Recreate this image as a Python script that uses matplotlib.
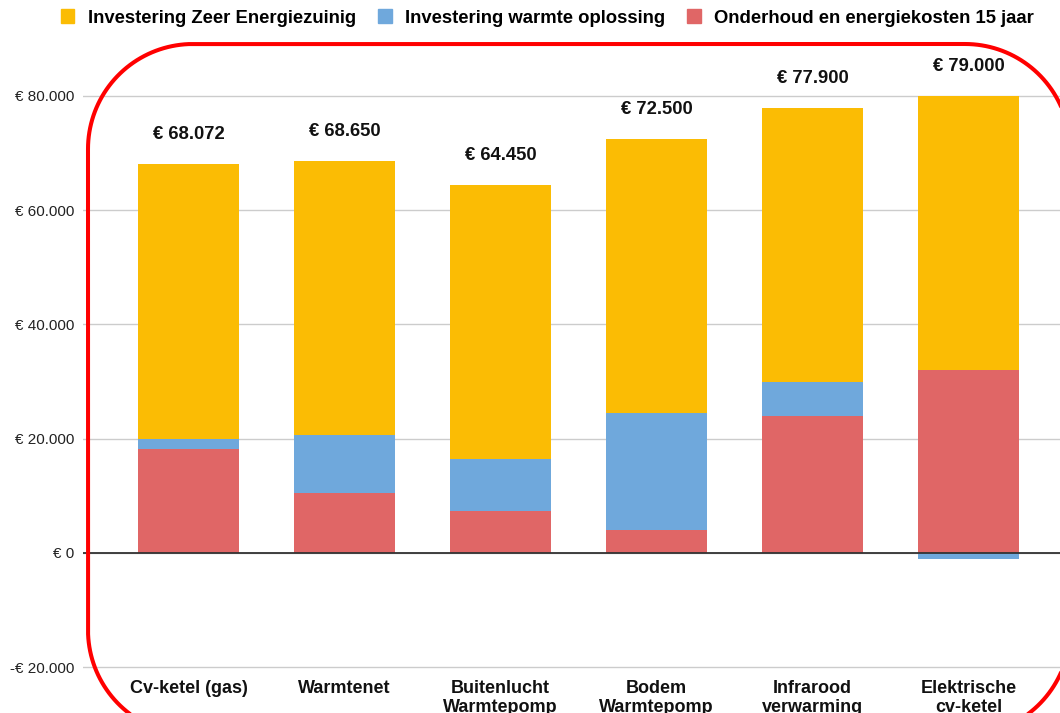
import matplotlib.pyplot as plt
import numpy as np
from matplotlib.lines import Line2D
from matplotlib.patches import Patch
from matplotlib.ticker import FuncFormatter

plt.rcParams["font.family"] = ["Liberation Sans", "DejaVu Sans"]

categories = ["Cv-ketel (gas)", "Warmtenet", "Buitenlucht\nWarmtepomp",
              "Bodem\nWarmtepomp", "Infrarood\nverwarming", "Elektrische\ncv-ketel"]
onderhoud = np.array([18200, 10500, 7350, 4000, 24000, 32000])
warmte = np.array([1800, 10150, 9100, 20500, 5900, -1000])
zeer_zuinig = np.array([48072, 48000, 48000, 48000, 48000, 48000])
totals = [68072, 68650, 64450, 72500, 77900, 79000]
yticks = [-20000, 0, 20000, 40000, 60000, 80000]

YELLOW = "#fbbc04"
BLUE = "#6fa8dc"
RED = "#e06666"

W, H = 1060, 713


def euro(v, pos=None):
    s = f"{abs(v):,.0f}".replace(",", ".")
    return f"-€ {s}" if v < 0 else f"€ {s}"


def rounded_rect(x0, y0, x1, y1, r, n=40):
    # corners in pixel coords (y up), returns figure-fraction arrays
    pts = []
    for cx, cy, a0 in [(x1 - r, y1 - r, 0), (x0 + r, y1 - r, 90),
                       (x0 + r, y0 + r, 180), (x1 - r, y0 + r, 270)]:
        a = np.radians(np.linspace(a0, a0 + 90, n))
        pts.append(np.column_stack([cx + r * np.cos(a), cy + r * np.sin(a)]))
    pts = np.vstack(pts + [pts[0][:1]])
    return pts[:, 0] / W, pts[:, 1] / H


fig = plt.figure(figsize=(W / 100, H / 100), dpi=100)
ax = fig.add_axes([83 / W, (H - 669.3) / H, 1 - 83 / W, (669.3 - 67.4) / H])

x = np.arange(len(categories))
w = 0.65
warmte_bottom = np.where(warmte >= 0, onderhoud, 0)
zeer_bottom = onderhoud + np.clip(warmte, 0, None)

ax.bar(x, onderhoud, w, color=RED, zorder=3)
ax.bar(x, warmte, w, bottom=warmte_bottom, color=BLUE, zorder=3)
ax.bar(x, zeer_zuinig, w, bottom=zeer_bottom, color=YELLOW, zorder=3)

tops = zeer_bottom + zeer_zuinig
for xi, top, tot in zip(x, tops, totals):
    ax.annotate(euro(tot), (xi, top), xytext=(0, 21), textcoords="offset points",
                ha="center", va="center", fontsize=13.3, fontweight="bold",
                color="#111111", clip_on=False)

ax.set_xlim(-0.676, 5.587)
ax.set_ylim(-20400, 85000)
ax.set_yticks(yticks)
ax.yaxis.set_major_formatter(FuncFormatter(euro))
ax.set_xticks(x)
ax.set_xticklabels(categories, fontsize=13, fontweight="bold", linespacing=1.15)
ax.tick_params(axis="x", length=0, pad=8, colors="#111111")
ax.tick_params(axis="y", length=0, pad=6, labelsize=11, colors="#222222")

ax.grid(axis="y", color="#cccccc", linewidth=1, zorder=0)
ax.axhline(0, color="#333333", linewidth=1.3, zorder=4)
for s in ax.spines.values():
    s.set_visible(False)

handles = [Patch(color=YELLOW), Patch(color=BLUE), Patch(color=RED)]
labels = ["Investering Zeer Energiezuinig", "Investering warmte oplossing",
          "Onderhoud en energiekosten 15 jaar"]
fig.legend(handles, labels, loc="center", bbox_to_anchor=(0.5165, 0.9748), ncol=3,
           frameon=False, prop={"size": 13.3, "weight": "bold"}, handlelength=0.75,
           handleheight=0.75, handletextpad=0.75, columnspacing=1.15, borderpad=0)

# red highlight around the plot
fx, fy = rounded_rect(88, H - 735, 1070, H - 44, 105)
fig.add_artist(Line2D(fx, fy, transform=fig.transFigure, color="#ff0000",
                      linewidth=2.9, zorder=10, solid_capstyle="round"))

fig.savefig("out.png", dpi=100)
